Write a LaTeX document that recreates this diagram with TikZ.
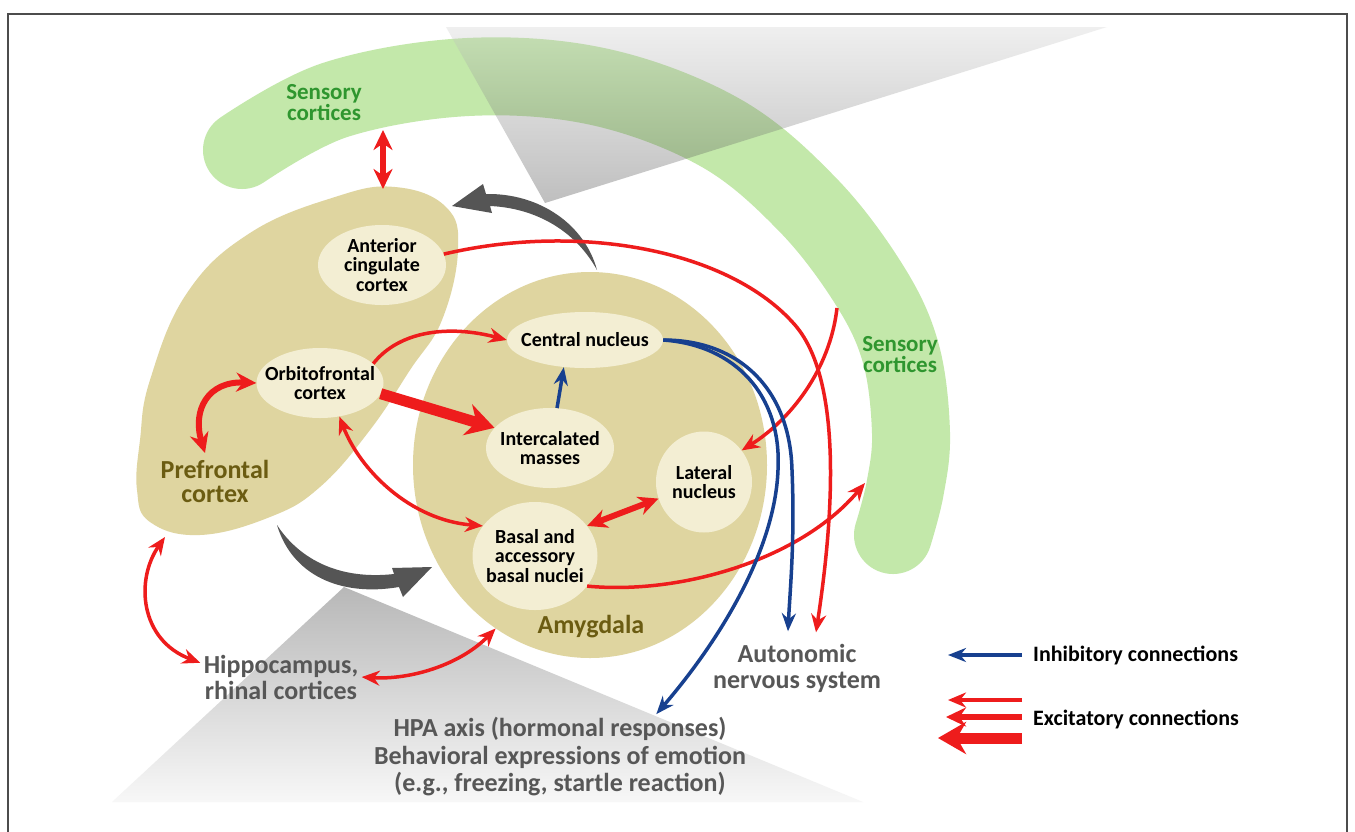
\documentclass[tikz,border=0pt]{standalone}
\usepackage{fontspec}
\setmainfont{Carlito}
\usetikzlibrary{shapes.geometric,arrows.meta,calc}
\definecolor{tan}{HTML}{DFD5A0}
\definecolor{cream}{HTML}{F3EED3}
\definecolor{sensgreen}{HTML}{C3E8AA}
\definecolor{labgreen}{HTML}{2F962F}
\definecolor{pfcbrown}{HTML}{6B5C12}
\definecolor{labgray}{HTML}{575757}
\definecolor{exred}{HTML}{EE1C1C}
\definecolor{inhblue}{HTML}{17408F}
\definecolor{darkarrow}{HTML}{555555}
\tikzset{region/.style={ellipse, fill=tan, inner sep=0pt},
  nucleus/.style={ellipse, fill=cream, inner sep=0pt},
  nuctext/.style={align=center, font=\fontsize{20}{19.5}\selectfont\bfseries},
  bigtext/.style={align=center, font=\fontsize{26}{24}\selectfont\bfseries, text=pfcbrown},
  senstext/.style={align=center, font=\fontsize{23}{21}\selectfont\bfseries, text=labgreen},
  outtext/.style={align=center, font=\fontsize{26}{26}\selectfont\bfseries, text=labgray},
  legtext/.style={anchor=west, inner sep=0pt, font=\fontsize{22}{24}\selectfont\bfseries},
  exc/.style={draw=exred, line width=3.5pt, >={Stealth[length=18pt,width=15pt]}},
  excmid/.style={draw=exred, line width=6pt, >={Stealth[length=20pt,width=19pt]}},
  excbig/.style={draw=exred, line width=11pt, >={Stealth[length=28pt,width=32pt]}},
  inh/.style={draw=inhblue, line width=3.5pt, >={Stealth[length=18pt,width=14pt]}}}

\begin{document}
\begin{tikzpicture}[x=1pt, y=-1pt]
    \useasboundingbox (0,0) rectangle (1355,831);
    \fill[white] (0,0) rectangle (1355,831);
    \draw[black!70, line width=1.2pt] (8,14) rectangle (1347,840);
    % sensory band and shaded wedges
    \draw[sensgreen, line width=78pt, line cap=round] plot[smooth, tension=0.6] coordinates {(242,150) (335,100) (468,77) (600,87) (721,133) (808,205) (870,286) (901,354) (911,433) (905,489) (893,535)};
    \shade[top color=black!20, bottom color=black!83, fill opacity=0.3] (446,27) -- (1107,27) -- (545,203) -- cycle;
    \shade[top color=black!28, bottom color=black!3] (344,587) -- (863,802) -- (112,802) -- cycle;
    % prefrontal cortex and amygdala
    \fill[tan] plot[smooth cycle, tension=0.7] coordinates {(395,187) (446,207) (458,250) (442,320) (410,370) (370,430) (320,487) (270,517) (200,535) (150,522) (137,490) (140,440) (150,380) (187,293) (250,233) (335,197)};
    \node[region, minimum width=354pt, minimum height=386pt] (amy) at (590,465) {};
    \node[nucleus, minimum width=128pt, minimum height=80pt, label={[nuctext]center:{Anterior\\cingulate\\cortex}}] (acc) at (382,265) {};
    \node[nucleus, minimum width=127pt, minimum height=70pt, label={[nuctext]center:{Orbitofrontal\\cortex}}] (ofc) at (320,383) {};
    \node[nucleus, minimum width=156pt, minimum height=56pt, label={[nuctext]center:{Central nucleus}}] (cen) at (585,340) {};
    \node[nucleus, minimum width=128pt, minimum height=80pt, label={[nuctext]center:{Intercalated\\masses}}] (itc) at (550,448) {};
    \node[nucleus, minimum width=96pt, minimum height=101pt, label={[nuctext]center:{Lateral\\nucleus}}] (lat) at (704,482) {};
    \node[nucleus, minimum width=125pt, minimum height=108pt, label={[nuctext]center:{Basal and\\accessory\\basal nuclei}}] (bas) at (535,556) {};
    % big gray arrows
    \fill[darkarrow] (597,270) .. controls (585,225) and (540,193) .. (486,194) -- (483,184) -- (452,206) -- (492,213) -- (490,206) .. controls (535,208) and (575,230) .. (597,270) -- cycle;
    \fill[darkarrow] (277,525) .. controls (300,560) and (340,580) .. (394,574) -- (392,568) -- (432,567) -- (403,597) -- (399,587) .. controls (340,597) and (292,575) .. (277,525) -- cycle;
    % labels
    \node[senstext] (senstop) at (324,103) {Sensory\\cortices};
    \node[senstext] (sensside) at (900,355) {Sensory\\cortices};
    \node[bigtext] (pfclabel) at (215,481) {Prefrontal\\cortex};
    \node[bigtext] (amylabel) at (591,627) {Amygdala};
    \node[outtext] (hip) at (281,677) {Hippocampus,\\rhinal cortices};
    \node[outtext] (ans) at (797,668) {Autonomic\\nervous system};
    \node[outtext, font=\fontsize{26}{27.5}\selectfont\bfseries] (hpa) at (560,757) {HPA axis (hormonal responses)\\Behavioral expressions of emotion\\(e.g., freezing, startle reaction)};
    \coordinate (sensdown) at (383,130);
    \coordinate (pfctop) at (383,189);
    \coordinate (sensright) at (837,308);
    \coordinate (senstail) at (865,483);
    \coordinate (pfcloop) at (205,453);
    \coordinate (pfcbottom) at (165,537);
    % excitatory connections
    \draw[excmid,<->] (sensdown) -- (pfctop);
    \draw[exc,->] (acc.10) .. controls (580,222) and (730,250) .. (795,325) .. controls (847,385) and (830,540) .. ($(ans.north)+(19,-8)$);
    \draw[exc,->] (sensright) .. controls (830,370) and (790,420) .. (lat.40);
    \draw[exc,->] (bas.-30) .. controls (680,595) and (800,560) .. (senstail);
    \draw[exc,->] (ofc.20) .. controls (400,330) and (450,325) .. (cen.west);
    \draw[excbig,->] (ofc.-10) -- (itc.160);
    \draw[exc,<->] (ofc.-60) .. controls (360,470) and (410,520) .. (bas.150);
    \draw[excmid,<->] (bas.30) -- (lat.200);
    \draw[excmid,<->] (pfcloop) .. controls (192,410) and (208,381) .. (ofc.west);
    \draw[exc,<->] (pfcbottom) .. controls (135,580) and (140,640) .. (hip.170);
    \draw[exc,<->] (hip.east) .. controls (410,680) and (460,665) .. (amy.240);
    % inhibitory connections
    \draw[inh,->] (itc.80) -- (cen.232);
    \draw[inh,->] (cen.east) .. controls (740,340) and (790,390) .. (792,470) .. controls (795,540) and (790,590) .. ($(ans.north)+(-9,-9)$);
    \draw[inh,->] (cen.east) .. controls (735,345) and (782,395) .. (778,470) .. controls (775,550) and (720,640) .. (hpa.24);
    % legend
    \node[legtext] (inhleg) at (1033,655) {Inhibitory connections};
    \node[legtext] (excleg) at (1033,719) {Excitatory connections};
    \draw[inh,->] ($(inhleg.west)+(-11,0)$) -- ++(-74,0);
    \draw[exc,->] ($(excleg.west)+(-11,-19)$) -- ++(-74,0);
    \draw[excmid,->] ($(excleg.west)+(-11,-2)$) -- ++(-76,0);
    \draw[excbig,->] ($(excleg.west)+(-11,19)$) -- ++(-84,0);
\end{tikzpicture}
\end{document}
